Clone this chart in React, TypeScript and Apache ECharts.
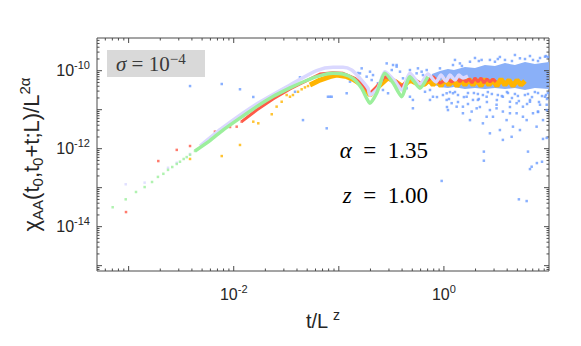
import React, { useEffect, useRef } from 'react';
import * as echarts from 'echarts';

// axis ranges and tick labels
const xMin = 5e-4;
const xMax = 10;
const yMin = 7.3e-16;
const yMax = 6.9e-10;
const xLabelExps = [-2, 0];
const yLabelExps = [-14, -12, -10];
const xMajorTicks = [1e-3, 1e-2, 1e-1, 1e0];
const yMajorTicks = [1e-15, 1e-14, 1e-13, 1e-12, 1e-11, 1e-10];

// green series (sparse early markers, then thick line)
const greenPts = [
  [7.05e-4, 3.15e-14], [9.38e-4, 5.03e-14], [1.175e-3, 7.76e-14], [1.42e-3, 1.037e-13],
  [1.67e-3, 1.401e-13], [1.9e-3, 1.89e-13], [2.14e-3, 2.27e-13], [2.37e-3, 2.86e-13],
  [2.6e-3, 3.39e-13], [2.87e-3, 4.06e-13], [3.08e-3, 4.63e-13], [3.34e-3, 5.45e-13],
  [3.57e-3, 6.09e-13], [3.84e-3, 7.01e-13], [4.28e-3, 8.76e-13],
];
const greenLine = [
  [4.28e-3, 8.76e-13], [5.94e-3, 1.617e-12], [7.91e-3, 3.01e-12], [1.147e-2, 6.1e-12],
  [1.654e-2, 1.198e-11], [2.364e-2, 2.17e-11], [3.43e-2, 3.62e-11], [4.27e-2, 4.77e-11],
  [6.16e-2, 7.04e-11], [8.8e-2, 8.57e-11], [0.1096, 8.21e-11], [0.1364, 6.38e-11],
  [0.165, 3.55e-11], [0.198, 1.46e-11], [0.229, 2.63e-11], [0.275, 8.57e-11],
  [0.33, 4.77e-11], [0.396, 2.15e-11], [0.475, 7.04e-11], [0.592, 3.55e-11], [0.705, 7.04e-11],
];

// lavender series
const lavPts = [
  [9.38e-4, 1.222e-13], [1.42e-3, 1.347e-13], [2.37e-3, 3.24e-13], [2.87e-3, 4.36e-13], [3.84e-3, 7.31e-13],
];
const lavLine = [
  [4.78e-3, 1.171e-12], [7.91e-3, 3.5e-12], [1.654e-2, 1.396e-11], [3.43e-2, 4.3e-11],
  [6.16e-2, 1.003e-10], [8.8e-2, 1.222e-10], [0.1096, 1.222e-10], [0.1325, 1.04e-10],
  [0.159, 6.38e-11], [0.1895, 3.55e-11], [0.198, 2.38e-11], [0.236, 3.62e-11],
  [0.275, 9.45e-11], [0.335, 5.76e-11], [0.399, 3.2e-11], [0.475, 8.57e-11],
  [0.592, 4.56e-11], [0.705, 8.21e-11], [0.841, 5.15e-11], [0.938, 7.73e-11],
  [1.046, 5.42e-11], [1.142, 7.73e-11], [1.274, 5.76e-11], [1.391, 7.73e-11],
  [1.518, 6.51e-11], [1.694, 7.34e-11],
];

// red series
const redPts = [
  [9.44e-4, 2.37e-14], [1.915e-3, 4.82e-13], [2.87e-3, 9.32e-13], [3.84e-3, 1.171e-12],
  [6.63e-3, 2.74e-12], [7.4e-3, 3.01e-12], [9.22e-3, 3.6e-12], [1.067e-2, 3.67e-12], [1.19e-2, 4.93e-12],
];
const redLine = [
  [1.19e-2, 4.93e-12], [1.654e-2, 9.79e-12], [2.364e-2, 1.89e-11], [3.43e-2, 3.4e-11],
  [4.27e-2, 4.56e-11], [6.62e-2, 8.21e-11], [8.8e-2, 8.89e-11], [0.1096, 8.57e-11],
  [0.1425, 6.38e-11], [0.17, 4.3e-11], [0.198, 2.64e-11], [0.229, 3.87e-11],
  [0.275, 7.04e-11], [0.355, 5.24e-11], [0.396, 3.87e-11], [0.475, 7.04e-11],
  [0.619, 4.56e-11], [0.787, 7.04e-11], [0.918, 4.77e-11], [1.069, 6.12e-11], [1.193, 5.15e-11],
  [1.331, 6.51e-11], [1.422, 5.15e-11], [1.518, 6.51e-11], [1.621, 5.15e-11], [1.732, 6.12e-11],
  [1.849, 4.85e-11], [1.975, 6.51e-11], [2.109, 5.15e-11], [2.253, 6.51e-11], [2.406, 4.85e-11],
  [2.569, 6.12e-11], [2.744, 5.15e-11], [2.93, 6.12e-11], [3.129, 5.15e-11],
];

// orange series
const orangePts = [
  [3.84e-3, 5.45e-13], [7.69e-3, 6.47e-13], [1.147e-2, 1.246e-12], [1.535e-2, 4.93e-12],
  [1.713e-2, 4.48e-12], [2.3e-2, 7.64e-12], [2.56e-2, 1.198e-11], [2.86e-2, 1.6e-11],
  [3.19e-2, 2.38e-11], [3.43e-2, 2.15e-11], [3.66e-2, 2.38e-11], [4.09e-2, 2.88e-11],
  [4.43e-2, 3.34e-11], [4.76e-2, 3.73e-11], [5.09e-2, 4.04e-11],
];
const orangeLine = [
  [5.31e-2, 4.3e-11], [6.62e-2, 5.76e-11], [8.24e-2, 7.04e-11], [9.54e-2, 7.73e-11],
  [0.1188, 7.04e-11], [0.1373, 6.01e-11], [0.166, 4.3e-11], [0.198, 2.38e-11],
  [0.2307, 3.62e-11], [0.2936, 6.51e-11], [0.35, 5.15e-11], [0.4077, 3.87e-11],
  [0.475, 5.76e-11], [0.592, 4.3e-11], [0.66, 4.56e-11], [0.721, 5.76e-11],
  [0.787, 4.3e-11], [0.859, 5.76e-11], [0.938, 4.04e-11], [1.023, 6.12e-11],
  [1.117, 4.3e-11], [1.22, 5.76e-11], [1.331, 4.04e-11], [1.453, 5.76e-11],
  [1.586, 4.3e-11], [1.732, 6.12e-11], [1.89, 4.3e-11], [2.063, 5.76e-11],
  [2.253, 4.04e-11], [2.459, 6.12e-11], [2.684, 4.3e-11], [2.93, 5.76e-11],
  [3.198, 4.04e-11], [3.491, 6.12e-11], [3.811, 4.3e-11], [4.16, 5.76e-11],
  [4.54, 4.04e-11], [4.957, 5.76e-11], [5.411, 4.3e-11], [5.906, 5.42e-11],
];

// blue series: dense core envelope and individual points
const blueCoreX = [0.77, 0.917, 1.093, 1.247, 1.585, 1.975, 2.455, 3.06, 3.81, 4.74, 5.91, 7.34, 10];
const blueCoreHi = [8.21e-11, 9.83e-11, 1.1e-10, 1.04e-10, 1.243e-10, 1.171e-10, 1.4e-10, 1.326e-10, 1.57e-10, 1.4e-10, 1.67e-10, 1.49e-10, 1.67e-10];
const blueCoreLo = [4.56e-11, 3.81e-11, 3.62e-11, 3.81e-11, 3.4e-11, 3.62e-11, 3.4e-11, 3.62e-11, 3.4e-11, 3.62e-11, 3.2e-11, 3.62e-11, 3.4e-11];
const bluePts = [
  [3.84e-3, 4.04e-11], [7.69e-3, 4.56e-11], [1.147e-2, 3.34e-11], [1.535e-2, 2.12e-11],
  [0.0427, 6.78e-11], [0.0383, 2.88e-11], [0.0855, 2.15e-11], [0.0788, 2.15e-11],
  [0.1188, 2.64e-11], [0.1277, 5.24e-11], [0.159, 8.57e-11], [0.184, 7.04e-11],
  [0.198, 9.44e-11], [0.2115, 7.73e-11], [0.2055, 5.76e-11], [0.2357, 4.77e-11],
  [0.263, 3.2e-11], [0.294, 2.64e-11], [0.328, 1.4e-10], [0.355, 1.27e-10],
  [0.319, 1.04e-10], [0.382, 9.44e-11], [0.408, 6.39e-11], [0.442, 3.55e-11],
  [0.475, 2.15e-11], [0.507, 1.78e-11], [0.55, 8.57e-11], [0.566, 1.15e-10],
  [0.614, 9.44e-11], [0.686, 1.04e-10], [0.661, 2.88e-11], [0.507, 1.087e-11],
  [0.0456, 5.41e-12], [0.0767, 3.33e-12], [0.0824, 2.15e-11], [0.1522, 8.73e-11],
  [0.165, 1.15e-10], [0.2855, 1.54e-10], [0.355, 1.4e-10], [0.475, 1.04e-10],
  [0.632, 7.73e-11], [0.737, 3.2e-11], [0.787, 2.15e-11], [0.917, 4.85e-11],
  [1.062, 1.78e-11], [1.093, 9.79e-12], [1.22, 2.64e-11], [1.322, 1.195e-11],
  [1.42, 4.77e-11], [1.517, 8.1e-12], [1.645, 2.15e-11], [1.77, 5.41e-12],
  [1.89, 1.78e-11], [2.05, 1.085e-11], [2.284, 1.89e-10], [2.35, 4.47e-12],
  [2.55, 2.15e-11], [2.74, 9.79e-12], [2.93, 6.6e-12], [3.17, 1.34e-11],
  [3.41, 3.01e-12], [3.64, 8.96e-12], [3.95, 5.41e-12], [4.25, 1.6e-11],
  [4.54, 3.67e-12], [4.92, 8.1e-12], [5.29, 3.01e-12], [5.65, 1.195e-11],
  [6.13, 5.41e-12], [6.59, 1.6e-11], [7.04, 8.1e-12], [7.62, 3.67e-12],
  [8.21, 1.34e-11], [8.77, 5.41e-12], [9.51, 9.79e-12], [9.16, 2.15e-11],
  [3.64, 1.68e-12], [4.41, 2.02e-12], [2.74, 2.48e-12], [1.42, 1.54e-10],
  [0.917, 1.15e-10], [1.22, 1.4e-10], [1.77, 1.7e-10], [3.06, 1.7e-10],
  [3.81, 1.89e-10], [5.29, 2.08e-10], [7.04, 1.89e-10], [9.16, 2.29e-10],
  [0.737, 1.78e-11], [1.062, 2.64e-11], [1.185, 1.47e-11], [1.517, 1.195e-11],
  [1.837, 8.96e-12], [2.105, 1.78e-11], [2.55, 6.6e-12], [3.17, 1.085e-11],
  [3.64, 2.15e-11], [4.25, 8.1e-12], [4.92, 1.47e-11], [5.65, 6.6e-12],
  [6.59, 1.78e-11], [7.86, 8.96e-12], [9.51, 1.34e-11],
  [0.952, 1.49e-13], [2.4, 8.41e-13], [2.4, 4.92e-13], [6.31, 8.41e-13],
  [6.59, 3.0e-13], [7.67, 4.28e-13], [8.58, 4.63e-13], [5.17, 5.03e-14],
  [6.13, 4.54e-14], [9.51, 1.89e-12], [8.77, 1.78e-12], [6.84, 3.45e-13],
  [1.142, 2.83e-11], [1.361, 2.38e-11], [1.694, 2.68e-11], [2.105, 2.53e-11],
  [2.62, 2.83e-11], [3.26, 2.38e-11], [4.07, 2.68e-11], [5.06, 2.25e-11],
  [6.31, 2.53e-11], [7.86, 2.68e-11], [9.36, 2.38e-11], [1.274, 1.89e-10],
  [1.975, 2.12e-10], [3.41, 2.25e-10], [4.74, 2.53e-10], [6.59, 2.38e-10],
  [8.21, 2.12e-10], [9.77, 2.25e-10], [1.484, 1.326e-10], [2.74, 1.89e-10],
  [0.979, 2.38e-11], [1.117, 1.88e-11], [1.274, 2.84e-11], [1.361, 1.575e-11],
  [1.55, 2.11e-11], [1.694, 1.4e-11], [1.93, 2.68e-11], [2.15, 1.88e-11],
  [2.35, 2.38e-11], [2.565, 1.575e-11], [2.86, 2.53e-11], [3.19, 1.772e-11],
  [3.56, 2.24e-11], [3.98, 2.84e-11], [4.44, 1.995e-11], [4.74, 2.53e-11],
  [5.17, 1.67e-11], [5.9, 2.38e-11], [6.18, 1.4e-11], [6.89, 2.11e-11],
  [7.34, 2.84e-11], [8.03, 1.575e-11], [8.58, 2.24e-11], [9.57, 1.88e-11],
  [9.77, 2.68e-11], [0.859, 2.11e-11], [1.069, 1.172e-11], [2.2, 1.172e-11],
  [4.25, 1.172e-11], [7.86, 8.73e-12], [2.15, 1.773e-10], [3.26, 1.996e-10],
  [4.44, 1.773e-10], [5.91, 1.996e-10], [7.86, 1.773e-10], [9.36, 2.38e-10],
];

const C_BLUE = '#6b9cff';
const C_RED = '#ff5a48';
const C_ORANGE = '#ffb400';
const C_GREEN = '#9cef9c';
const C_LAV = '#dad8ff';
const AXIS_COLOR = '#4a4a4a';
const SANS = "'Liberation Sans', Arial, Helvetica, sans-serif";
const SERIF = "'Liberation Serif', 'Times New Roman', Times, serif";

function decadeLabel(v: number, exps: number[]) {
  const l = Math.log10(v);
  const e = Math.round(l);
  if (Math.abs(l - e) > 1e-6 || exps.indexOf(e) < 0) return '';
  return '{b|10}{s|' + e + '}';
}

function buildTickData() {
  const items: number[][] = [];
  xMajorTicks.forEach((v) => items.push([v, 1e-12, 1]));
  yMajorTicks.forEach((v) => items.push([1, v, 3]));
  for (let e = -4; e <= 0; e++) {
    for (let k = 2; k <= 9; k++) {
      const v = k * Math.pow(10, e);
      if (v > xMin && v < xMax) items.push([v, 1e-12, 0]);
    }
  }
  for (let e = -16; e <= -10; e++) {
    for (let k = 2; k <= 9; k++) {
      const v = k * Math.pow(10, e);
      if (v > yMin && v < yMax) items.push([1, v, 2]);
    }
  }
  return items;
}

const labelRich = {
  b: { fontSize: 16, fontFamily: SANS, color: '#262626', lineHeight: 22 },
  s: { fontSize: 11, fontFamily: SANS, color: '#262626', lineHeight: 11, verticalAlign: 'top' },
};

export default function App() {
  const ref = useRef<HTMLDivElement>(null);
  useEffect(() => {
    if (!ref.current) return;
    const chart = echarts.init(ref.current, null, { renderer: 'svg' });
    const tickStyle = { stroke: AXIS_COLOR, lineWidth: 1 };
    const option: any = {
      animation: false,
      backgroundColor: '#fff',
      textStyle: { fontFamily: SANS },
      grid: {
        left: 97, top: 38, width: 452, height: 233,
        show: true, borderColor: AXIS_COLOR, borderWidth: 1, backgroundColor: 'transparent',
      },
      xAxis: {
        type: 'log', logBase: 10, min: xMin, max: xMax,
        axisLine: { show: false }, axisTick: { show: false }, splitLine: { show: false },
        axisLabel: {
          margin: 12,
          fontFamily: SANS,
          formatter: (v: number) => decadeLabel(v, xLabelExps),
          rich: labelRich,
        },
        name: '{b|t/L}{s|z}',
        nameLocation: 'middle',
        nameGap: 37,
        nameTextStyle: {
          fontFamily: SANS,
          rich: {
            b: { fontSize: 20, fontFamily: SANS, color: '#262626', lineHeight: 26 },
            s: { fontSize: 14, fontFamily: SANS, color: '#262626', lineHeight: 14, verticalAlign: 'top', padding: [0, 0, 0, 5] },
          },
        },
      },
      yAxis: {
        type: 'log', logBase: 10, min: yMin, max: yMax,
        axisLine: { show: false }, axisTick: { show: false }, splitLine: { show: false },
        axisLabel: {
          margin: 7,
          fontFamily: SANS,
          formatter: (v: number) => decadeLabel(v, yLabelExps),
          rich: labelRich,
        },
        name: '{b|χ}{sb|AA}{b|(t}{sb|0}{b|,t}{sb|0}{b|+t;L)/L}{sp|2α}',
        nameLocation: 'middle',
        nameGap: 52,
        nameTextStyle: {
          fontFamily: SANS,
          rich: {
            b: { fontSize: 22, fontFamily: SANS, color: '#262626', lineHeight: 28 },
            sb: { fontSize: 15, fontFamily: SANS, color: '#262626', lineHeight: 15, verticalAlign: 'bottom' },
            sp: { fontSize: 15, fontFamily: SANS, color: '#262626', lineHeight: 15, verticalAlign: 'top' },
          },
        },
      },
      graphic: [
        { type: 'rect', shape: { x: 107, y: 50, width: 98, height: 27 }, style: { fill: '#d9d9d9' }, z: 20 },
        {
          type: 'text', x: 116, y: 64, z: 21,
          style: {
            text: '{i|σ} = 10{s|−4}',
            fontSize: 21, fontFamily: SERIF, fill: '#3a3a3a', verticalAlign: 'middle',
            rich: {
              i: { fontSize: 21, fontFamily: SERIF, fontStyle: 'italic', fill: '#3a3a3a', lineHeight: 26 },
              s: { fontSize: 15, fontFamily: SERIF, fill: '#3a3a3a', lineHeight: 15, verticalAlign: 'top' },
            },
          },
        },
        {
          type: 'text', x: 428, y: 150, z: 21,
          style: {
            text: '{i|α}  =  1.35',
            fontSize: 23, fontFamily: SERIF, fill: '#000',
            align: 'right', verticalAlign: 'middle',
            rich: { i: { fontSize: 23, fontFamily: SERIF, fontStyle: 'italic', fill: '#000' } },
          },
        },
        {
          type: 'text', x: 428, y: 195, z: 21,
          style: {
            text: '{i|z}  =  1.00',
            fontSize: 23, fontFamily: SERIF, fill: '#000',
            align: 'right', verticalAlign: 'middle',
            rich: { i: { fontSize: 23, fontFamily: SERIF, fontStyle: 'italic', fill: '#000' } },
          },
        },
      ],
      series: [
        {
          type: 'custom', name: 'blueCore', silent: true, clip: true,
          data: [[1, 1e-11]],
          renderItem: (params: any, api: any) => {
            const top = blueCoreX.map((x, i) => api.coord([x, blueCoreHi[i]]));
            const bot = blueCoreX.map((x, i) => api.coord([x, blueCoreLo[i]])).reverse();
            return { type: 'polygon', shape: { points: top.concat(bot) }, style: { fill: '#8ab0f8' } };
          },
        },
        {
          type: 'scatter', name: 'blue', data: bluePts, symbol: 'rect', symbolSize: 2.5,
          itemStyle: { color: C_BLUE }, silent: true,
        },
        {
          type: 'scatter', name: 'orangePts', data: orangePts, symbol: 'rect', symbolSize: 2.5,
          itemStyle: { color: C_ORANGE }, silent: true,
        },
        {
          type: 'line', name: 'orange', data: orangeLine, showSymbol: false, symbol: 'none',
          lineStyle: { color: C_ORANGE, width: 5 }, silent: true,
        },
        {
          type: 'scatter', name: 'redPts', data: redPts, symbol: 'rect', symbolSize: 2.5,
          itemStyle: { color: C_RED }, silent: true,
        },
        {
          type: 'line', name: 'red', data: redLine, showSymbol: false, symbol: 'none',
          lineStyle: { color: C_RED, width: 3 }, silent: true,
        },
        {
          type: 'scatter', name: 'lavPts', data: lavPts, symbol: 'rect', symbolSize: 2.5,
          itemStyle: { color: C_LAV }, silent: true,
        },
        {
          type: 'line', name: 'lavender', data: lavLine, showSymbol: false, symbol: 'none', smooth: 0.25,
          lineStyle: { color: C_LAV, width: 3.5 }, silent: true,
        },
        {
          type: 'scatter', name: 'greenPts', data: greenPts, symbol: 'rect', symbolSize: 2.5,
          itemStyle: { color: C_GREEN }, silent: true,
        },
        {
          type: 'line', name: 'green', data: greenLine, showSymbol: false, symbol: 'none', smooth: 0.2,
          lineStyle: { color: C_GREEN, width: 3.5 }, silent: true,
        },
        {
          type: 'custom', name: 'ticks', silent: true, clip: false,
          data: buildTickData(),
          renderItem: (params: any, api: any) => {
            const cs = params.coordSys;
            const kind = api.value(2);
            const len = kind % 2 === 1 ? 5 : 2.5;
            if (kind < 2) {
              const x = api.coord([api.value(0), 1e-12])[0];
              return {
                type: 'group', children: [
                  { type: 'line', shape: { x1: x, y1: cs.y + cs.height, x2: x, y2: cs.y + cs.height - len }, style: tickStyle },
                  { type: 'line', shape: { x1: x, y1: cs.y, x2: x, y2: cs.y + len }, style: tickStyle },
                ],
              };
            }
            const y = api.coord([1, api.value(1)])[1];
            return {
              type: 'group', children: [
                { type: 'line', shape: { x1: cs.x, y1: y, x2: cs.x + len, y2: y }, style: tickStyle },
                { type: 'line', shape: { x1: cs.x + cs.width, y1: y, x2: cs.x + cs.width - len, y2: y }, style: tickStyle },
              ],
            };
          },
        },
      ],
    };
    chart.setOption(option);
    return () => chart.dispose();
  }, []);
  return (
    <div
      ref={ref}
      style={{ position: 'fixed', left: 0, top: 0, width: 581, height: 346, background: '#fff' }}
    />
  );
}
